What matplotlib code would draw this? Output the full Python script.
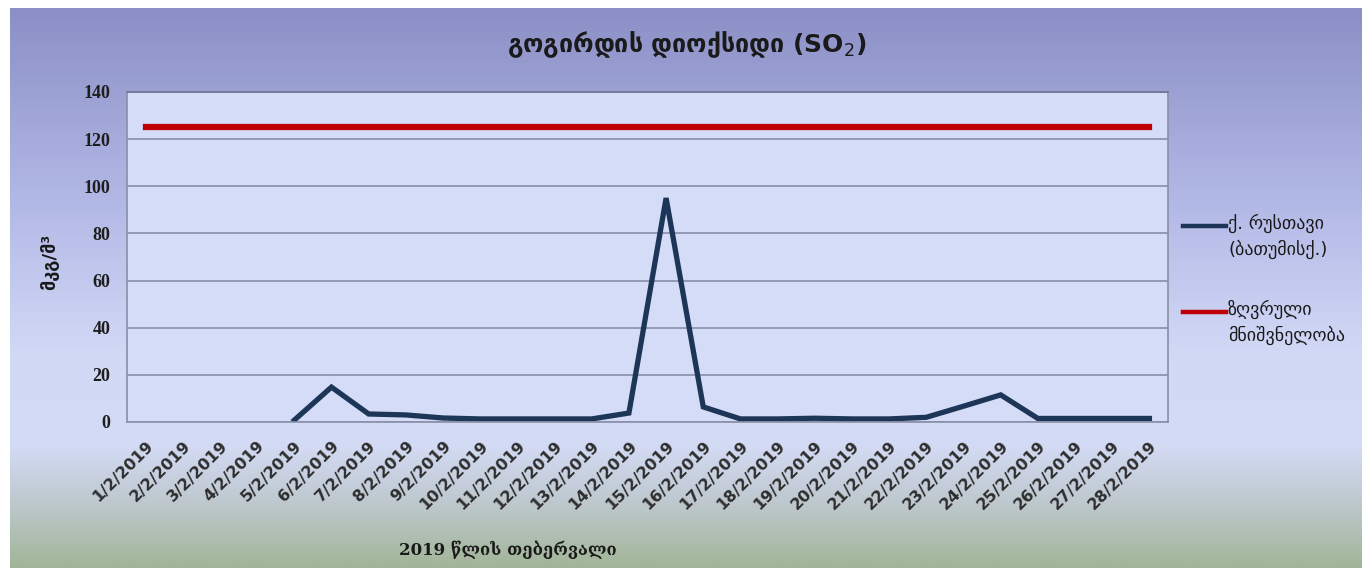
import numpy as np
import matplotlib
matplotlib.use("Agg")
import matplotlib.pyplot as plt
from matplotlib.colors import LinearSegmentedColormap
from matplotlib.lines import Line2D

dates = [f"{d}/2/2019" for d in range(1, 29)]
rustavi = [np.nan, np.nan, np.nan, np.nan, 0.8, 14.8, 3.4, 3.0, 1.7, 1.3,
           1.3, 1.3, 1.3, 3.8, 95.0, 6.4, 1.3, 1.3, 1.6, 1.3,
           1.3, 2.0, 6.7, 11.5, 1.5, 1.5, 1.5, 1.5]
limit = [125] * 28

title = "გოგირდის დიოქსიდი (SO$_2$)"
ylabel = "მკგ/მ³"
xlabel = "2019 წლის თებერვალი"
label_r = "ქ. რუსთავი\n(ბათუმისქ.)"
label_l = "ზღვრული\nმნიშვნელობა"

plt.rcParams['font.family'] = ['DejaVu Sans']

fig = plt.figure(figsize=(13.7, 5.7), dpi=100)
fig.patch.set_facecolor("white")

# background gradient panel
bg = fig.add_axes([10/1370, 2/570, 1352/1370, 560/570])
bg.set_axis_off()
cmap = LinearSegmentedColormap.from_list("bg", [
    (0.0, "#8b8fc6"), (0.35, "#b3b9e6"), (0.62, "#d2d9f6"),
    (0.78, "#d4dbf5"), (0.88, "#bfc9d0"), (1.0, "#a2b597")])
grad = np.linspace(0, 1, 256).reshape(-1, 1)
bg.imshow(grad, aspect="auto", cmap=cmap, extent=[0, 1, 0, 1], origin="upper")
bg.set_xlim(0, 1); bg.set_ylim(0, 1)

ax = fig.add_axes([127/1370, 1 - 422/570, (1168 - 127)/1370, (422 - 92)/570])
ax.set_facecolor("#d4dcf8")
x = np.arange(len(dates))
l1, = ax.plot(x, rustavi, color="#1d3557", lw=3.8, solid_joinstyle="miter")
l2, = ax.plot(x, limit, color="#c00000", lw=4.5)
ax.set_xlim(-0.5, len(dates) - 0.5)
ax.set_ylim(0, 140)
ax.set_yticks(range(0, 141, 20))
ax.yaxis.grid(True, color="#8a8fa8", lw=1.2)
ax.set_axisbelow(True)
for s in ax.spines.values():
    s.set_color("#8a8fa8")
    s.set_linewidth(1.2)
ax.spines["top"].set_color("#6f7496")
ax.tick_params(length=0)
ax.set_xticks(x)
ax.set_xticklabels(dates, rotation=45, ha="right", rotation_mode="anchor",
                   fontsize=11.5, fontweight="semibold", color="#2e2e2e",
                   fontfamily="DejaVu Sans Condensed")
for lab in ax.get_yticklabels():
    lab.set_fontfamily("Liberation Serif")
    lab.set_fontweight("bold")
    lab.set_fontsize(13)
    lab.set_color("#1e1e1e")
ax.tick_params(axis="y", pad=12)
ax.tick_params(axis="x", pad=12)

fig.text(687/1370, 1 - 45/570, title, ha="center", va="center", fontsize=18,
         fontweight="bold", color="#1a1a1a")
fig.text(50/1370, 1 - 262/570, ylabel, ha="center", va="center", rotation=90,
         fontsize=13, fontweight="bold", color="#1a1a1a")
fig.text(508/1370, 1 - 550/570, xlabel, ha="center", va="center", fontsize=12,
         fontweight="bold", color="#1a1a1a", fontfamily="DejaVu Serif")

# legend (manual, text aligned to first line like the original)
for line, lab, yc in [(l1, label_r, 226), (l2, label_l, 312)]:
    fig.add_artist(Line2D([1183/1370, 1226/1370], [1 - yc/570, 1 - yc/570],
                          color=line.get_color(), lw=3.2))
    fig.text(1228/1370, 1 - (yc - 12)/570, lab, ha="left", va="top",
             fontsize=13, color="#1a1a1a", linespacing=1.45)

fig.savefig("out.png", dpi=100)
